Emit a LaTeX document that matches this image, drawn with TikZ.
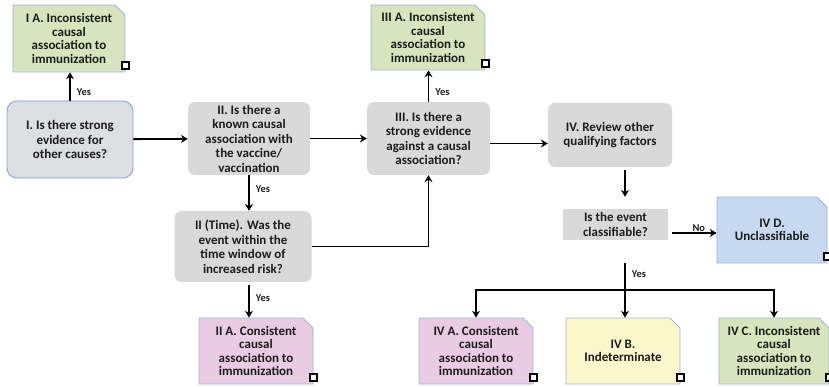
\documentclass[tikz,border=0pt]{standalone}
\usepackage{fontspec}
\setmainfont{Carlito}
\usepackage{xcolor}
\usepackage{tikz}
\usetikzlibrary{arrows.meta,positioning,shapes.misc}
\definecolor{qgray}{HTML}{D9D9D9}
\definecolor{igray}{HTML}{DCDEE2}
\definecolor{iedge}{HTML}{7F9FCF}
\definecolor{nedge}{HTML}{9DB5D8}
\definecolor{ngreen}{HTML}{D7E4BD}
\definecolor{npink}{HTML}{EACCE2}
\definecolor{nyellow}{HTML}{FBF7CC}
\definecolor{nblue}{HTML}{C6D9F1}
\definecolor{txt}{HTML}{1C1C1C}
\newcommand{\qfont}{\bfseries\fontsize{13}{14.5}\selectfont}
\newcommand{\nfont}{\bfseries\fontsize{13}{13.6}\selectfont}
\tikzset{
  ar/.style={-{Stealth[length=2.4mm,width=2.8mm]},line width=1.8pt,black},
  qbox/.style={fill=qgray,rounded corners=7pt,align=center,inner sep=0pt,font=\qfont,text=txt},
  note/.style={chamfered rectangle,chamfered rectangle corners=north east,chamfered rectangle xsep=5pt,chamfered rectangle ysep=5pt,draw=nedge,line width=0.8pt,align=center,inner sep=0pt,font=\nfont,text=txt},
  yes/.style={font=\bfseries\fontsize{10.5}{11}\selectfont,text=txt,inner sep=2pt},
  tick/.style={draw=black,line width=1.8pt,fill=white}
}
\begin{document}
\begin{tikzpicture}[x=1pt,y=-1pt]
\useasboundingbox (0,0) rectangle (829,387);
\node[note,fill=ngreen,minimum width=112pt,minimum height=67pt] (IA) at (69,38.5) {I A. Inconsistent\\causal\\association to\\immunization};
\node[qbox,fill=igray,draw=iedge,line width=0.8pt,rounded corners=10pt,minimum width=126pt,minimum height=77pt] (I) at (70,139.5) {I. Is there strong\\evidence for\\other causes?};
\node[qbox,minimum width=122pt,minimum height=73pt] (II) at (249,138.5) {II. Is there a\\known causal\\association with\\the vaccine/\\vaccination};
\node[qbox,minimum width=123pt,minimum height=73pt] (III) at (428.5,138.5) {III. Is there a\\strong evidence\\against a causal\\association?};
\node[note,fill=ngreen,minimum width=114pt,minimum height=65pt] (IIIA) at (428,37.5) {III A. Inconsistent\\causal\\association to\\immunization};
\node[qbox,minimum width=124pt,minimum height=64pt] (IV) at (610,135) {IV. Review other\\qualifying factors};
\node[qbox,rounded corners=0pt,minimum width=105pt,minimum height=31pt] (Cls) at (615.5,224.5) {Is the event\\classifiable?};
\node[note,fill=nblue,minimum width=110pt,minimum height=66pt] (IVD) at (772,230) {IV D.\\Unclassifiable};
\node[qbox,minimum width=137pt,minimum height=71pt] (Time) at (243,246.5) {II (Time). Was the\\event within the\\time window of\\increased risk?};
\node[note,fill=npink,minimum width=114pt,minimum height=66pt] (IIA) at (256,351) {II A. Consistent\\causal\\association to\\immunization};
\node[note,fill=npink,minimum width=114pt,minimum height=66pt] (IVA) at (476,351) {IV A. Consistent\\causal\\association to\\immunization};
\node[note,fill=nyellow,minimum width=114pt,minimum height=66pt] (IVB) at (623,351) {IV B.\\Indeterminate};
\node[note,fill=ngreen,minimum width=110pt,minimum height=66pt] (IVC) at (774,351) {IV C. Inconsistent\\causal\\association to\\immunization};
\foreach \n in {IA,IIIA,IIA,IVA,IVB,IVC,IVD}
  \draw[tick] ([xshift=-3.5pt,yshift=10.5pt]\n.east |- \n.south) rectangle ++(7,7);
\coordinate (sp) at (625,0);
\coordinate (fork) at (625,290);
\draw[ar] (I.north) -- (I.north |- IA.south) node[yes,pos=0.3,right=4pt]{Yes};
\draw[ar] (I) -- (II);
\draw[ar] (II) -- (III);
\draw[ar] (II.south) -- (II.south |- Time.north) node[yes,pos=0.4,right=4pt]{Yes};
\draw[ar] (Time.east) -| (III.south);
\draw[ar] (III.north) -- (III.north |- IIIA.south) node[yes,pos=0.3,right=4pt]{Yes};
\draw[ar] ([yshift=-5pt]III.east) -- ([yshift=-5pt]III.east -| IV.west);
\draw[ar] ([yshift=-3pt]IV.south -| sp) -- ([yshift=12pt]Cls.north -| sp);
\draw[ar] ([shift={(4pt,-8.5pt)}]Cls.east) -- ([yshift=-8.5pt]Cls.east -| IVD.west) node[yes,pos=0.6,above=-1pt]{No};
\draw[ar] ([yshift=-23pt]Cls.south -| sp) -- (sp |- IVB.north) node[yes,pos=0.2,right=4pt]{Yes};
\draw[ar] (fork) -| (IVA.north);
\draw[ar] (fork) -| (IVC.north);
\draw[ar] ([yshift=-3pt]Time.south -| II.south) -- (IIA.north -| II.south) node[yes,pos=0.4,right=4pt]{Yes};
\end{tikzpicture}
\end{document}
